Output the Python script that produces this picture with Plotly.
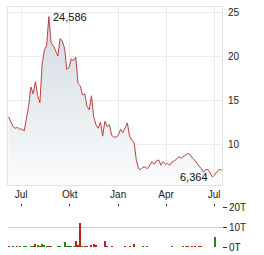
import pandas as pd
import plotly.graph_objects as go

# ---- data ----
price = [13.2, 12.6, 12.1, 11.9, 12.0, 11.8, 11.8, 11.6, 13.1, 14.5,
         16.6, 15.8, 17.2, 15.6, 14.8, 19.2, 20.8, 21.3, 24.586, 21.6,
         21.3, 20.7, 20.1, 22.1, 21.8, 21.0, 18.6, 18.8, 19.8, 19.6,
         20.0, 17.0, 16.7, 15.7, 15.8, 14.4, 14.0, 15.6, 13.2, 12.3,
         11.9, 12.6, 11.0, 12.7, 12.1, 12.3, 11.1, 10.9, 10.9, 11.1,
         11.8, 11.4, 12.0, 12.5, 11.0, 10.5, 10.3, 8.3, 7.3, 7.2,
         7.5, 7.5, 7.3, 7.7, 8.1, 7.8, 8.2, 8.3, 7.7, 8.1,
         7.8, 7.9, 7.7, 8.1, 8.2, 8.4, 8.7, 8.5, 8.7, 8.9,
         9.05, 8.9, 8.5, 8.3, 7.9, 7.6, 7.3, 6.9, 7.2, 7.2,
         6.8, 6.364, 6.6, 7.0, 7.2, 7.2]
dates = pd.date_range("2023-06-07", "2024-07-15", periods=len(price))

# volume (thousands) at selected price indices; direction +1 up / -1 down
vol_idx = [0, 2, 4, 5, 7, 8, 10, 11, 12, 13, 14, 15, 16, 17, 18, 19, 22, 23, 25, 26,
           27, 28, 29, 30, 31, 32, 33, 34, 35, 37, 38, 39, 43, 44, 46, 52, 54, 56, 60, 62,
           73, 78, 79, 80, 82, 83, 85, 86, 92]
vol_val = [0.5, 0.2, 0.2, 0.2, 0.3, 0.4, 0.4, 0.5, 1.7, 1.2, 0.6, 1.7, 1.0, 0.6, 0.4, 0.4, 0.3, 0.4, 2.6, 0.4,
           0.4, 0.5, 0.4, 2.9, 1.0, 12.0, 0.5, 0.3, 0.3, 1.0, 1.7, 0.8, 2.9, 0.5, 0.4, 0.4, 0.6, 1.5, 0.3, 0.3,
           0.3, 0.7, 0.6, 0.6, 0.6, 0.4, 0.5, 0.5, 5.0]
vol_dir = [-1, 1, -1, 1, 1, 1, 1, 1, -1, 1, -1, 1, 1, 1, -1, -1, 1, 1, 1, -1,
           1, 1, 1, -1, -1, -1, 1, -1, -1, -1, -1, -1, -1, -1, -1, -1, -1, -1, 1, 1,
           1, 1, -1, -1, -1, -1, -1, -1, 1]

month_ticks = ["2023-07-01", "2023-10-01", "2024-01-01", "2024-04-01", "2024-07-01"]
month_labels = ["Jul", "Okt", "Jan", "Apr", "Jul"]
price_ticks = [10, 15, 20, 25]
vol_ticks = [0, 10, 20]
vol_labels = ["0T", "10T", "20T"]

FONT = "Liberation Sans, Arial, sans-serif"
LINE = "#c0403f"
UP = "#1b8a1b"
DOWN = "#c41e1e"

fig = go.Figure()
fig.add_trace(go.Scatter(
    x=dates, y=price, mode="lines",
    line=dict(color=LINE, width=1),
    fill="tozeroy",
    fillgradient=dict(type="vertical", start=5.45, stop=25,
                      colorscale=[[0, "#fbfcfc"], [1, "#d0d9e1"]]),
    hoverinfo="skip", showlegend=False,
))

fig.add_trace(go.Bar(
    x=[dates[i] for i in vol_idx], y=vol_val,
    marker=dict(color=[UP if d > 0 else DOWN for d in vol_dir], line=dict(width=0)),
    width=2 * 86400000,
    xaxis="x2", yaxis="y2", showlegend=False, hoverinfo="skip",
))

imax = max(range(len(price)), key=lambda i: price[i])
imin = min(range(len(price)), key=lambda i: price[i])
fmt = lambda v: f"{v:.3f}".replace(".", ",")

fig.update_layout(
    width=264, height=255,
    margin=dict(l=8, r=42, t=7, b=8, autoexpand=False),
    paper_bgcolor="white", plot_bgcolor="white",
    font=dict(family=FONT, size=10, color="#222"),
    bargap=0,
    xaxis=dict(
        domain=[0, 1], range=["2023-06-06", "2024-07-16"],
        tickvals=month_ticks, ticktext=month_labels,
        showgrid=True, gridcolor="#ebebeb", gridwidth=1,
        showline=True, mirror=True, linecolor="#e4e4e4", linewidth=1,
        zeroline=False, ticks="", anchor="y", automargin=False,
        tickfont=dict(size=10, color="#222"),
    ),
    yaxis=dict(
        domain=[0.2583, 1], range=[5.45, 25.68], side="right",
        tickvals=price_ticks, ticktext=[str(v) for v in price_ticks],
        showgrid=True, gridcolor="#ebebeb", gridwidth=1,
        showline=True, mirror=True, linecolor="#e4e4e4", linewidth=1,
        zeroline=False, ticks="outside", ticklen=3, tickcolor="rgba(0,0,0,0)",
        automargin=False,
        tickfont=dict(size=10, color="#222"),
    ),
    xaxis2=dict(
        domain=[0, 1], matches="x", anchor="y2", side="top",
        tickvals=month_ticks, showticklabels=False,
        showgrid=False, showline=False, zeroline=False, automargin=False,
        ticks="outside", ticklen=2, tickcolor="#333", tickwidth=1,
    ),
    yaxis2=dict(
        domain=[0, 0.1667], range=[0, 20.02], side="right", anchor="x2",
        tickvals=vol_ticks, ticktext=vol_labels,
        showgrid=True, gridcolor="#cccccc", gridwidth=1,
        zeroline=False, showline=False, automargin=False,
        ticks="outside", ticklen=4, tickcolor="#333",
        tickfont=dict(size=10, color="#222"),
    ),
    annotations=[
        dict(x=dates[imax], y=price[imax], xref="x", yref="y", text=fmt(price[imax]),
             showarrow=False, xanchor="left", yanchor="middle", xshift=2,
             font=dict(size=11, color="#111", family=FONT)),
        dict(x=dates[imin], y=price[imin], xref="x", yref="y", text=fmt(price[imin]),
             showarrow=False, xanchor="right", yanchor="middle", xshift=-3,
             font=dict(size=11, color="#111", family=FONT)),
    ],
)

fig.write_html("out.html")
